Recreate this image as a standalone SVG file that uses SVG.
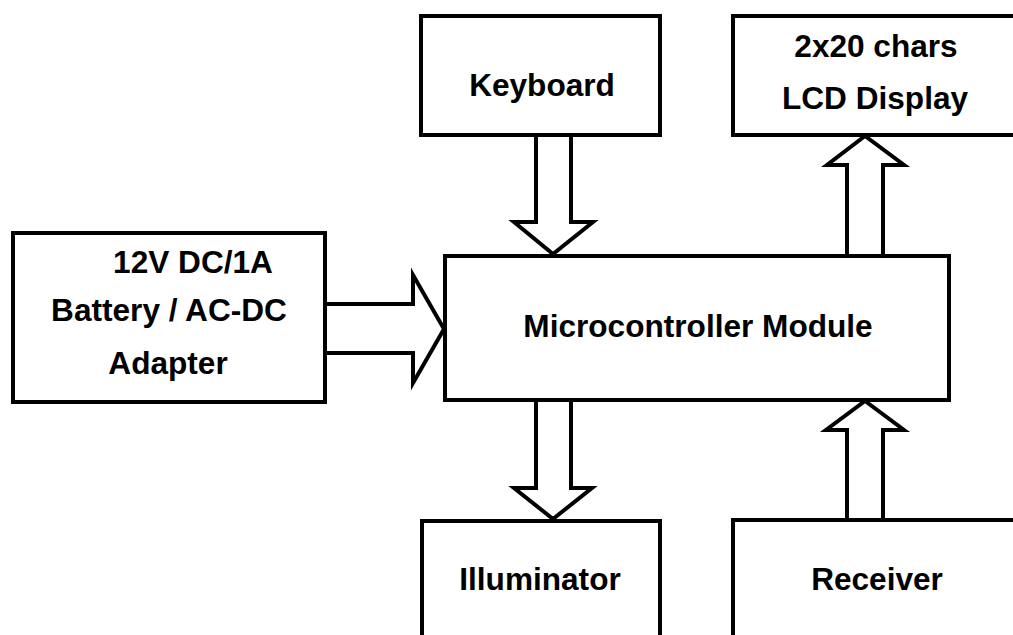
<svg xmlns="http://www.w3.org/2000/svg" width="1013" height="635" viewBox="0 0 1013 635">
  <style>
    .box { fill: #ffffff; stroke: #000000; stroke-width: 4; }
    .arrow { fill: #ffffff; stroke: #000000; stroke-width: 4; stroke-linejoin: miter; }
    .label { font-family: "Liberation Sans", Arial, sans-serif; font-weight: bold; font-size: 31.6px; fill: #000000; text-anchor: middle; }
  </style>
  <rect width="1013" height="635" fill="#ffffff"/>

  <!-- block arrows between modules -->
  <g id="connectors">
    <!-- Keyboard -> Microcontroller -->
    <polygon class="arrow" points="536,135 571,135 571,222 593,222 553,254 514,222 536,222"/>
    <!-- Microcontroller -> LCD -->
    <polygon class="arrow" points="847,256 883,256 883,165 904,165 865,136 827,165 847,165"/>
    <!-- Power -> Microcontroller -->
    <polygon class="arrow" points="325,304 413,304 413,275 444,329 413,383 413,353 325,353"/>
    <!-- Microcontroller -> Illuminator -->
    <polygon class="arrow" points="536,400 571,400 571,488 592,488 553,519 514,488 536,488"/>
    <!-- Receiver -> Microcontroller -->
    <polygon class="arrow" points="847,520 883,520 883,430 904,430 865,401 826,430 847,430"/>
  </g>

  <g id="keyboard">
    <rect class="box" x="421" y="16" width="239" height="119"/>
    <text class="label" x="542" y="96">Keyboard</text>
  </g>

  <g id="lcd-display">
    <rect class="box" x="733" y="16" width="300" height="119"/>
    <text class="label" x="876" y="57">2x20 chars</text>
    <text class="label" x="875" y="109">LCD Display</text>
  </g>

  <g id="power-supply">
    <rect class="box" x="13" y="233" width="312" height="169"/>
    <text class="label" x="193" y="273">12V DC/1A</text>
    <text class="label" x="169" y="321">Battery / AC-DC</text>
    <text class="label" x="168" y="374">Adapter</text>
  </g>

  <g id="microcontroller">
    <rect class="box" x="445" y="256" width="504" height="144"/>
    <text class="label" x="698" y="337">Microcontroller Module</text>
  </g>

  <g id="illuminator">
    <rect class="box" x="422" y="521" width="238" height="140"/>
    <text class="label" x="540" y="590">Illuminator</text>
  </g>

  <g id="receiver">
    <rect class="box" x="733" y="520" width="300" height="140"/>
    <text class="label" x="877" y="590">Receiver</text>
  </g>
</svg>
